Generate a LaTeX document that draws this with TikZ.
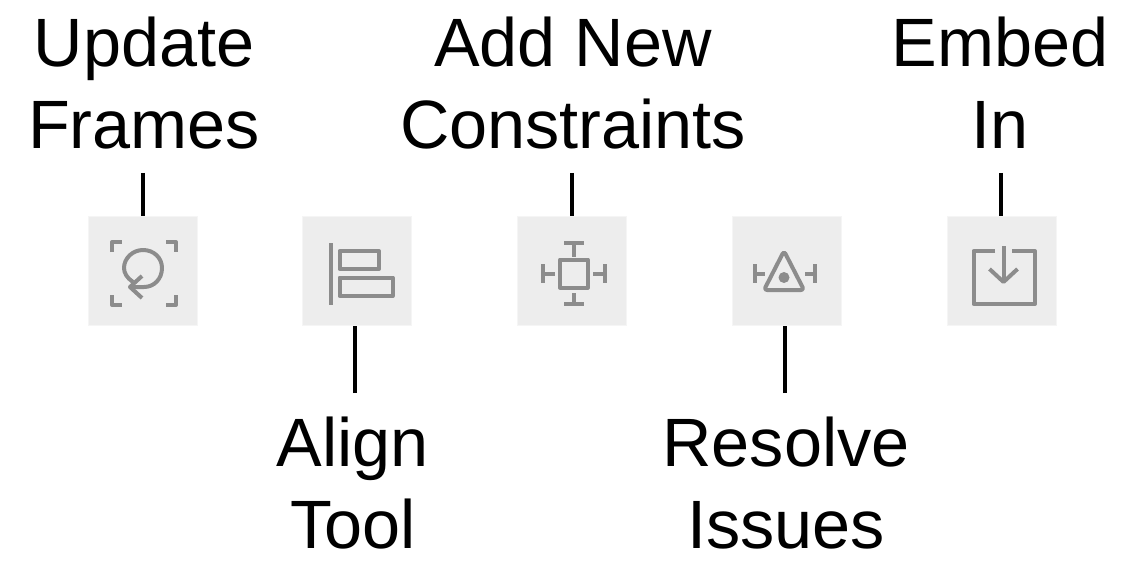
\documentclass[tikz,border=0pt]{standalone}
\usepackage{fontspec}
\setmainfont{Liberation Sans}
\usepackage{tikz}
\definecolor{btnfill}{HTML}{EDEDED}
\definecolor{btnicon}{HTML}{8C8C8C}
\tikzstyle{button}=[rectangle,fill=btnfill,draw=white!96!black,line width=0.4pt,minimum size=54.5pt,inner sep=0pt]
\tikzstyle{label}=[align=center,inner sep=0pt,font=\fontsize{34.2}{41}\selectfont]
\tikzstyle{edge} = [draw,line width=1.9pt,black,-]
\tikzstyle{icon} = [draw=btnicon,line width=2pt,line join=round]

\begin{document}
\begin{tikzpicture}[x=0.5pt,y=-0.5pt]
\useasboundingbox (0,0) rectangle (1138,572);

% First we draw the buttons
\foreach \pos / \name in {{(143,271)/update},
{(356.5,271)/align},
{(571.5,271)/constraints},
{(786.5,271)/resolve},
{(1001.5,271)/embed}}
\node[button] (\name) at \pos {};

% Then the labels
\node[label] (updatetext) at (144,83) {Update\\Frames};
\node[label] (aligntext) at (353,483) {Align\\Tool};
\node[label] (constraintstext) at (573,83) {Add New\\Constraints};
\node[label] (resolvetext) at (786,483) {Resolve\\Issues};
\node[label] (embedtext) at (1000,83) {Embed\\In};

% Free ends of the connectors
\foreach \x / \y / \name in {143/173/updateend,
355/393/alignend,
572/173/constraintsend,
785/393/resolveend,
1001/173/embedend}
\coordinate (\name) at (\x,\y);

% Connect labels with buttons
\foreach \source / \dest in {updateend/update,constraintsend/constraints,embedend/embed}
\path[edge] (\source) -- (\source |- \dest.north);
\foreach \source / \dest in {alignend/align,resolveend/resolve}
\path[edge] (\source) -- (\source |- \dest.south);

% Update frames icon
\draw[icon] (112,252) -- (112,242) -- (122,242);
\draw[icon] (166,242) -- (176,242) -- (176,252);
\draw[icon] (112,295) -- (112,305) -- (122,305);
\draw[icon] (166,305) -- (176,305) -- (176,295);
\draw[icon] (133,282) .. controls (127,278) and (124,273) .. (124,268)
  .. controls (124,258) and (133,250) .. (143,250)
  .. controls (154,250) and (162,258) .. (162,268)
  .. controls (162,279) and (154,287) .. (144,287) -- (131,287);
\draw[icon] (142,276) -- (130,287) -- (142,298);

% Align icon
\draw[icon] (330.7,243) -- (330.7,305);
\draw[icon] (339.5,251) rectangle (379,269);
\draw[icon] (339.5,277.5) rectangle (392.5,296);

% Constraints icon
\draw[icon] (560,259.5) rectangle (587.5,287.5);
\draw[icon] (564,243) -- (584,243) (573.5,243) -- (573.5,257);
\draw[icon] (564,303.5) -- (584,303.5) (573.5,303.5) -- (573.5,293);
\draw[icon] (542.5,264) -- (542.5,283) (542.5,273.5) -- (555,273.5);
\draw[icon] (604.5,264) -- (604.5,283) (604.5,273.5) -- (593,273.5);

% Resolve icon
\draw[icon,rounded corners=1.5pt] (784,251) -- (764,290) -- (804,290) -- cycle;
\fill[btnicon] (784,277.5) circle (5.5);
\draw[icon] (754.5,264) -- (754.5,283) (754.5,273.5) -- (765,273.5);
\draw[icon] (815,264) -- (815,283) (815,273.5) -- (805,273.5);

% Embed icon
\draw[icon] (995,251) -- (973.5,251) -- (973.5,304) -- (1035,304) -- (1035,251) -- (1012,251);
\draw[icon] (1003.5,246) -- (1003.5,282);
\draw[icon] (989.5,269) -- (1003.5,282) -- (1017.5,269);

\end{tikzpicture}
\end{document}
